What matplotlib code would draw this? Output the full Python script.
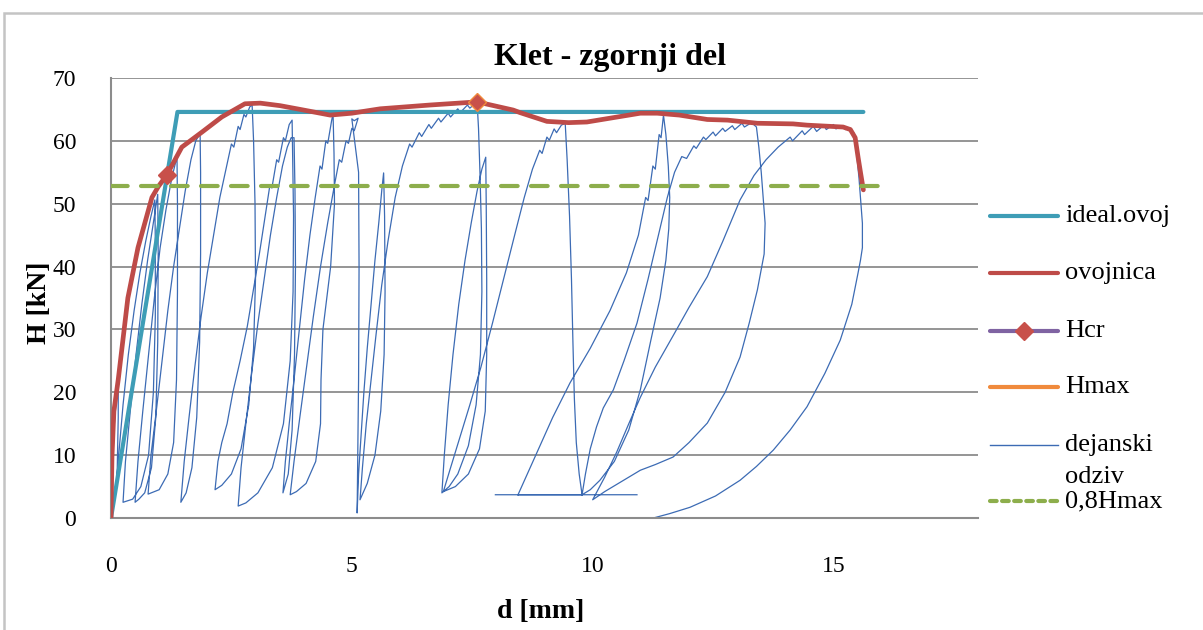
import numpy as np
import matplotlib
matplotlib.use("Agg")
import matplotlib.pyplot as plt
from matplotlib.lines import Line2D
from matplotlib.patches import Rectangle

plt.rcParams['font.family'] = ['Liberation Serif', 'DejaVu Serif']

# ---------------- data ----------------
title = "Klet - zgornji del"
x_label = "d [mm]"
y_label = "H [kN]"
x_ticks = [0, 5, 10, 15]
y_ticks = [0, 10, 20, 30, 40, 50, 60, 70]

ideal_d = [0.0, 1.38, 15.62]
ideal_H = [0.0, 64.6, 64.6]

ovoj_d = [0.0, 0.02, 0.06, 0.15, 0.35, 0.56, 0.85, 0.98, 1.16, 1.47, 1.89, 2.30, 2.78,
          3.10, 3.51, 3.93, 4.55, 5.00, 5.59, 6.62, 7.60, 8.35, 8.49, 9.05, 9.50, 9.88,
          10.99, 11.34, 11.80, 12.38, 12.80, 13.42, 14.16, 14.45, 15.20, 15.35, 15.45,
          15.51, 15.56, 15.62]
ovoj_H = [0.0, 9.7, 17.0, 22.0, 35.0, 43.0, 51.0, 52.7, 54.6, 59.0, 61.4, 63.8, 65.9,
          66.0, 65.6, 65.0, 64.1, 64.4, 65.1, 65.7, 66.2, 64.9, 64.5, 63.1, 62.9, 63.0,
          64.4, 64.4, 64.1, 63.4, 63.3, 62.8, 62.7, 62.5, 62.2, 61.8, 60.5,
          57.4, 55.0, 52.2]

hcr_d = [1.16]
hcr_H = [54.6]
hmax_d = [7.60]
hmax_H = [66.2]

h08_d = [0.0, 15.93]
h08_H = [52.8, 52.8]

nan = float('nan')
# measured response (dejanski odziv), traced cycle by cycle
odziv_d = [
    # small cycles near the origin
    0.00, 0.03, 0.07, 0.12, 0.15, 0.15, 0.13, 0.10,
    0.16, 0.25, 0.36, 0.48, 0.60, 0.72, 0.83, 0.91, 0.92, 0.92, 0.88, 0.78, 0.62, 0.45, 0.25,
    0.30, 0.40, 0.52, 0.64, 0.76, 0.88, 0.97, 0.98, 0.97, 0.93, 0.84, 0.70, 0.58, 0.50,
    0.56, 0.66, 0.78, 0.90, 1.02, 1.14, 1.26, 1.37, 1.38, 1.38, 1.36, 1.30, 1.18, 1.00, 0.77,
    0.83, 0.94, 1.06, 1.18, 1.30, 1.42, 1.54, 1.66, 1.76, 1.85, 1.86, 1.86, 1.84, 1.78, 1.68,
    1.56, 1.45,
    # cycles 1.5 - 5 mm
    1.52, 1.62, 1.74, 1.87, 2.00, 2.13, 2.26, 2.40, 2.50, 2.55, 2.64, 2.68, 2.76, 2.80, 2.88,
    2.93, 2.96, 2.99, 3.00, 2.96, 2.86, 2.70, 2.50, 2.30, 2.16,
    2.22, 2.30, 2.41, 2.53, 2.68, 2.83, 2.95, 3.08, 3.20, 3.30, 3.34, 3.44, 3.48, 3.58, 3.62,
    3.70, 3.76, 3.77, 3.79, 3.78, 3.72, 3.58, 3.35, 3.05, 2.80, 2.64,
    2.70, 2.80, 2.92, 3.05, 3.18, 3.31, 3.44, 3.56, 3.66, 3.74, 3.80, 3.82, 3.83, 3.81, 3.76,
    3.68, 3.57,
    3.62, 3.70, 3.80, 3.91, 4.02, 4.13, 4.24, 4.34, 4.38, 4.46, 4.50, 4.58, 4.61, 4.63, 4.64,
    4.56, 4.40, 4.36, 4.35, 4.25, 4.05, 3.85, 3.72,
    3.80, 3.92, 4.06, 4.20, 4.35, 4.50, 4.64, 4.74, 4.79, 4.88, 4.93, 5.00, 5.05, 5.12, 5.13,
    5.05, 5.00, 5.14, 5.15, 5.14, 5.12, 5.11,
    5.14, 5.19, 5.25, 5.32, 5.40, 5.48, 5.56, 5.62, 5.66, 5.68, 5.69, 5.67, 5.60, 5.48, 5.32,
    5.17,
    # cycles 5 - 10 mm
    5.22, 5.30, 5.40, 5.50, 5.62, 5.75, 5.90, 6.05, 6.20, 6.25, 6.40, 6.45, 6.60, 6.65, 6.80,
    6.85, 7.00, 7.05, 7.20, 7.25, 7.40, 7.45, 7.60,
    7.63, 7.66, 7.69, 7.70, 7.67, 7.58, 7.42, 7.20, 7.02, 6.87,
    6.92, 7.00, 7.10, 7.22, 7.35, 7.48, 7.60, 7.70, 7.78, 7.79, 7.80, 7.80, 7.77, 7.65, 7.42,
    7.15, 6.90,
    7.05, 7.25, 7.45, 7.68, 7.92, 8.15, 8.38, 8.58, 8.75, 8.90, 8.95, 9.05, 9.10, 9.20, 9.25,
    9.35, 9.43,
    9.47, 9.52, 9.56, 9.59, 9.62, 9.66, 9.72, 9.78,
    nan,
    # cycles 8.5 - 15.6 mm
    8.45, 8.80, 9.17, 9.53, 9.95, 10.36, 10.70, 10.95, 11.10, 11.15, 11.25, 11.30, 11.38,
    11.42, 11.47,
    11.52, 11.57, 11.60, 11.58, 11.52, 11.40, 11.20, 10.99, 10.75, 10.45, 10.15, 9.95, 9.78,
    9.85, 9.95, 10.08, 10.22, 10.43, 10.65, 10.92, 11.15, 11.38, 11.55, 11.70, 11.85, 11.95,
    12.10, 12.15, 12.30, 12.35, 12.50, 12.55, 12.70, 12.75, 12.90, 12.95, 13.10, 13.15, 13.30,
    13.40,
    13.45, 13.50, 13.55, 13.58, 13.56, 13.42, 13.25, 13.06, 12.75, 12.38, 12.00, 11.67, 11.30,
    10.99, 10.60, 10.25, 10.00,
    10.25, 10.50, 10.75, 10.99, 11.30, 11.67, 12.00, 12.38, 12.70, 13.06, 13.35, 13.60, 13.85,
    14.10, 14.15, 14.35, 14.40, 14.58, 14.65, 14.80, 14.85, 15.00, 15.05, 15.20, 15.25, 15.35,
    15.42,
    15.48, 15.53, 15.57, 15.60, 15.60, 15.56, 15.51, 15.38, 15.14, 14.82, 14.45, 14.10, 13.75,
    13.40, 13.06, 12.55, 12.02, 11.60, 11.26,
    nan,
    7.98, 10.92, nan, 8.45, 9.78,
]
odziv_H = [
    0.0, 8.0, 15.0, 20.0, 22.0, 16.0, 8.0, 4.0,
    10.0, 18.0, 26.0, 33.0, 39.0, 44.0, 48.0, 50.6, 44.0, 32.0, 20.0, 10.0, 5.0, 3.0, 2.5,
    9.0, 17.0, 26.0, 34.0, 41.0, 47.0, 51.5, 42.0, 28.0, 16.0, 8.0, 4.0, 3.0, 2.5,
    9.0, 17.0, 26.0, 35.0, 43.0, 49.0, 54.0, 57.5, 50.0, 36.0, 22.0, 12.0, 7.0, 4.5, 3.8,
    10.0, 17.0, 25.0, 33.0, 40.0, 46.0, 52.0, 57.0, 60.0, 61.2, 55.0, 42.0, 28.0, 16.0, 8.0,
    4.0, 2.5,
    9.0, 16.0, 24.0, 32.0, 39.0, 45.0, 51.0, 56.0, 59.5, 59.0, 62.3, 61.8, 64.2, 63.8, 65.4,
    65.7, 60.0, 50.0, 38.0, 27.0, 18.0, 11.0, 7.0, 5.2, 4.5,
    9.0, 12.0, 15.0, 20.0, 25.0, 30.5, 36.0, 42.0, 48.0, 53.0, 52.5, 57.0, 56.6, 60.5, 60.0,
    62.6, 63.3, 58.0, 48.0, 36.0, 25.0, 15.0, 8.0, 4.0, 2.4, 1.9,
    8.0, 15.0, 23.0, 31.0, 38.0, 45.0, 51.0, 56.0, 59.0, 60.5, 60.5, 52.0, 40.0, 26.0, 14.0,
    7.0, 4.0,
    9.0, 15.0, 22.0, 30.0, 38.0, 45.0, 51.0, 56.0, 55.5, 60.0, 59.6, 63.2, 64.4, 58.0, 50.0,
    40.0, 30.0, 22.0, 15.0, 9.0, 5.5, 4.2, 3.7,
    9.0, 16.0, 24.0, 32.0, 40.0, 47.0, 53.0, 57.0, 56.6, 60.0, 59.6, 62.0, 61.6, 63.4, 63.6,
    63.2, 63.5, 55.0, 40.0, 22.0, 8.0, 0.8,
    7.0, 13.0, 20.0, 27.0, 34.0, 41.0, 47.0, 52.0, 54.9, 48.0, 36.0, 26.0, 17.0, 10.0, 5.5,
    2.9,
    8.0, 15.0, 22.0, 29.0, 37.0, 44.0, 51.0, 56.0, 59.5, 59.0, 61.3, 60.7, 62.6, 62.0, 63.6,
    63.0, 64.4, 63.8, 65.1, 64.5, 65.7, 65.2, 66.2,
    62.0, 55.0, 46.0, 36.0, 26.0, 18.0, 11.5, 7.0, 5.0, 4.0,
    10.0, 18.0, 26.0, 34.0, 41.0, 47.0, 52.0, 55.5, 57.4, 50.0, 38.0, 26.0, 17.0, 11.0, 7.0,
    5.0, 4.2,
    8.0, 13.0, 18.0, 24.0, 31.0, 38.0, 45.0, 51.0, 55.5, 58.5, 58.0, 60.6, 60.1, 61.9, 61.3,
    62.5, 62.8,
    57.0, 48.0, 38.0, 28.0, 19.0, 12.0, 7.0, 3.7,
    nan,
    3.7, 9.7, 16.0, 21.5, 27.0, 33.0, 39.0, 45.0, 51.0, 50.5, 56.0, 55.5, 61.0,
    60.5, 64.1,
    61.0, 56.0, 51.0, 46.0, 41.0, 35.0, 28.0, 20.4, 14.0, 9.0, 6.0, 4.5, 3.7,
    7.0, 11.0, 14.5, 17.5, 20.4, 25.0, 31.0, 38.0, 45.5, 51.0, 55.0, 57.5, 57.2,
    59.2, 58.8, 60.6, 60.2, 61.4, 60.8, 62.0, 61.5, 62.4, 61.8, 62.8, 62.2, 62.9,
    62.2,
    59.0, 55.0, 50.0, 46.9, 42.0, 36.3, 31.0, 25.6, 20.0, 15.1, 12.0, 9.7, 8.5,
    7.6, 5.8, 4.2, 2.9,
    6.5, 10.5, 15.0, 19.2, 24.0, 29.0, 33.5, 38.4, 44.0, 50.6, 54.5, 57.0, 59.0,
    60.6, 60.0, 61.6, 61.0, 62.3, 61.5, 62.5, 61.8, 62.6, 61.9, 62.4, 61.8, 62.0,
    61.3,
    58.0, 54.0, 50.0, 46.9, 43.0, 41.0, 39.0, 34.0, 28.3, 23.0, 17.7, 14.0, 10.8,
    8.2, 6.0, 3.5, 1.7, 0.7, 0.0,
    nan,
    3.7, 3.7, nan, 3.7, 3.7,
]

# ---------------- style ----------------
c_ideal = '#3E9DB6'
c_ovoj = '#BE4B48'
c_hcr = '#7F63A2'
c_marker = '#C8504A'
c_hmax = '#F08A3C'
c_odziv = '#3C6BB4'
c_08 = '#8DAE4C'
c_grid = '#8C8C8C'

W, H = 1203, 630
fig = plt.figure(figsize=(W / 100, H / 100), dpi=100)
fig.patch.set_facecolor('white')

# outer chart frame (cropped at right and bottom)
fig.add_artist(Rectangle((4 / W, -0.1), 1.2, 1 - 13 / H + 0.1, transform=fig.transFigure,
                         fill=False, edgecolor='#C4C4C4', linewidth=1.8))

ax = fig.add_axes([111 / W, 1 - 518 / H, (978 - 111) / W, (518 - 78) / H])
ax.set_xlim(0, 18)
ax.set_ylim(0, 70)
ax.set_xticks(x_ticks)
ax.set_yticks(y_ticks)
ax.tick_params(axis='both', length=0, labelsize=17)
ax.tick_params(axis='x', pad=27)
ax.tick_params(axis='y', pad=25)
ax.grid(axis='y', color=c_grid, linewidth=1.3)
ax.set_axisbelow(True)
for s in ['top', 'right']:
    ax.spines[s].set_visible(False)
for s in ['left', 'bottom']:
    ax.spines[s].set_color(c_grid)
    ax.spines[s].set_linewidth(1.5)

ax.plot(odziv_d, odziv_H, color=c_odziv, linewidth=0.9, zorder=2)
ax.plot(ideal_d, ideal_H, color=c_ideal, linewidth=3.0, solid_capstyle='round', zorder=3)
ax.plot(ovoj_d, ovoj_H, color=c_ovoj, linewidth=3.4, solid_capstyle='round',
        solid_joinstyle='round', zorder=4)
ax.plot(h08_d, h08_H, color=c_08, linewidth=3.0, dashes=(4, 3.2), dash_capstyle='round', zorder=4)
ax.plot(hcr_d, hcr_H, linestyle='none', marker='D', markersize=9, color=c_marker, zorder=5)
ax.plot(hmax_d, hmax_H, linestyle='none', marker='D', markersize=9, markerfacecolor=c_marker,
        markeredgecolor=c_hmax, markeredgewidth=1.0, zorder=5)

fig.text(610 / W, 1 - 57 / H, title, ha='center', va='center', fontsize=23, fontweight='bold')
fig.text(40 / W, 1 - 303 / H, y_label, ha='center', va='center', rotation=90, fontsize=20,
         fontweight='bold')
fig.text(541 / W, 1 - 612 / H, x_label, ha='center', va='center', fontsize=20, fontweight='bold')

# legend (Excel style, drawn at the right)
leg_items = [
    ("ideal.ovoj", dict(color=c_ideal, linewidth=3.0, solid_capstyle='round'), 216),
    ("ovojnica", dict(color=c_ovoj, linewidth=3.0, solid_capstyle='round'), 273),
    ("Hcr", dict(color=c_hcr, linewidth=3.0, solid_capstyle='round'), 331),
    ("Hmax", dict(color=c_hmax, linewidth=3.0, solid_capstyle='round'), 387),
    ("dejanski\nodziv", dict(color=c_odziv, linewidth=1.0), 445),
    ("0,8Hmax", dict(color=c_08, linewidth=3.0, dashes=(1.6, 1.3), dash_capstyle='round'), 501),
]
for label, kw, ypx in leg_items:
    yy = 1 - ypx / H
    fig.add_artist(Line2D([990 / W, 1058 / W], [yy, yy], transform=fig.transFigure, **kw))
    if label == "Hcr":
        fig.add_artist(Line2D([1024 / W], [yy], transform=fig.transFigure, marker='D',
                              markersize=9, color=c_marker, linestyle='none'))
    if "\n" in label:
        a, b = label.split("\n")
        fig.text(1065 / W, yy, a, ha='left', va='center', fontsize=19)
        fig.text(1065 / W, 1 - 477 / H, b, ha='left', va='center', fontsize=19)
    else:
        fig.text(1065 / W, yy, label, ha='left', va='center', fontsize=19)

fig.savefig('out.png', dpi=100)
